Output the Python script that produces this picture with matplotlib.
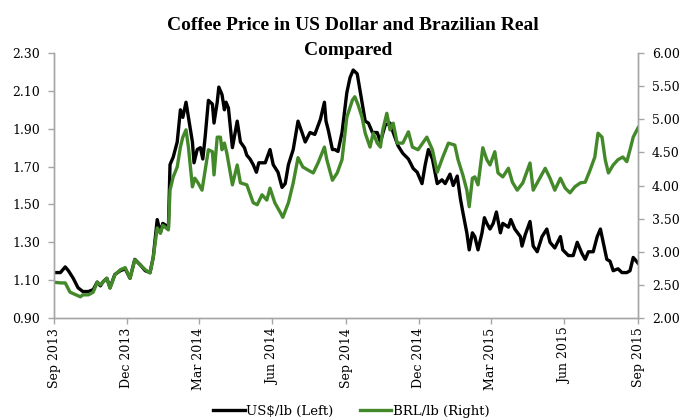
import matplotlib
matplotlib.use("Agg")
import matplotlib.pyplot as plt
import matplotlib.dates as mdates
import pandas as pd

usd_dates = ["2013-09-01","2013-09-09","2013-09-15","2013-09-19","2013-09-25","2013-10-01","2013-10-07","2013-10-14",
"2013-10-20","2013-10-25","2013-10-29","2013-11-01","2013-11-06","2013-11-10","2013-11-16","2013-11-23","2013-11-29",
"2013-12-05","2013-12-11","2013-12-18","2013-12-24","2013-12-30","2014-01-03","2014-01-08","2014-01-12","2014-01-15",
"2014-01-22","2014-01-24","2014-01-28","2014-02-02","2014-02-06","2014-02-09","2014-02-13","2014-02-16","2014-02-21",
"2014-02-23","2014-02-27","2014-03-03","2014-03-06","2014-03-09","2014-03-13","2014-03-18","2014-03-20","2014-03-24",
"2014-03-26","2014-03-30","2014-04-02","2014-04-04","2014-04-07","2014-04-12","2014-04-18","2014-04-22","2014-04-27",
"2014-04-30","2014-05-04","2014-05-08","2014-05-12","2014-05-15","2014-05-23","2014-05-29","2014-06-02","2014-06-08",
"2014-06-13","2014-06-17","2014-06-21","2014-06-27","2014-07-03","2014-07-08","2014-07-12","2014-07-18","2014-07-24",
"2014-07-31","2014-08-05","2014-08-07","2014-08-10","2014-08-15","2014-08-18","2014-08-22","2014-08-27","2014-09-02",
"2014-09-06","2014-09-10","2014-09-15","2014-09-21","2014-09-25","2014-09-29","2014-10-04","2014-10-10","2014-10-14",
"2014-10-20","2014-10-26","2014-10-30","2014-11-05","2014-11-11","2014-11-18","2014-11-24","2014-11-29","2014-12-05",
"2014-12-09","2014-12-13","2014-12-18","2014-12-24","2014-12-30","2015-01-03","2015-01-09","2015-01-13","2015-01-18",
"2015-01-22","2015-01-25","2015-01-30","2015-02-02","2015-02-06","2015-02-09","2015-02-13","2015-02-18","2015-02-21",
"2015-02-24","2015-02-28","2015-03-04","2015-03-08","2015-03-13","2015-03-16","2015-03-23","2015-03-26","2015-03-31",
"2015-04-07","2015-04-09","2015-04-13","2015-04-19","2015-04-23","2015-04-28","2015-05-04","2015-05-10","2015-05-14",
"2015-05-20","2015-05-27","2015-05-30","2015-06-06","2015-06-12","2015-06-17","2015-06-23","2015-06-27","2015-07-01",
"2015-07-07","2015-07-12","2015-07-16","2015-07-19","2015-07-24","2015-07-28","2015-08-01","2015-08-07","2015-08-12",
"2015-08-18","2015-08-22","2015-08-26","2015-09-01"]

usd_per_lb = [1.14,1.14,1.17,1.15,1.11,1.06,1.04,1.04,1.05,1.09,1.07,1.09,1.11,1.06,1.13,1.15,1.16,1.11,1.21,1.18,
1.15,1.14,1.22,1.42,1.35,1.40,1.38,1.71,1.75,1.83,2.00,1.96,2.04,1.96,1.83,1.72,1.79,1.80,1.74,1.86,2.05,2.03,1.93,
2.04,2.12,2.08,2.00,2.04,2.01,1.80,1.94,1.83,1.80,1.76,1.74,1.71,1.67,1.72,1.72,1.79,1.71,1.67,1.59,1.61,1.71,1.79,
1.94,1.88,1.83,1.88,1.87,1.95,2.04,1.94,1.89,1.79,1.79,1.78,1.88,2.09,2.17,2.21,2.19,2.04,1.94,1.93,1.88,1.88,1.83,
1.92,1.93,1.88,1.81,1.77,1.74,1.69,1.67,1.61,1.71,1.79,1.74,1.61,1.63,1.61,1.66,1.60,1.65,1.53,1.46,1.35,1.26,1.35,
1.33,1.26,1.35,1.43,1.40,1.37,1.40,1.46,1.35,1.40,1.38,1.42,1.37,1.33,1.28,1.34,1.41,1.28,1.25,1.33,1.37,1.30,1.27,
1.33,1.26,1.23,1.23,1.30,1.24,1.21,1.25,1.25,1.33,1.37,1.31,1.21,1.20,1.15,1.16,1.14,1.14,1.15,1.22,1.19]

brl_dates = ["2013-09-01","2013-09-09","2013-09-15","2013-09-21","2013-10-04","2013-10-07","2013-10-14","2013-10-20",
"2013-10-25","2013-10-29","2013-11-01","2013-11-06","2013-11-10","2013-11-16","2013-11-23","2013-11-29","2013-12-05",
"2013-12-11","2013-12-18","2013-12-24","2013-12-30","2014-01-03","2014-01-08","2014-01-12","2014-01-15","2014-01-22",
"2014-01-24","2014-01-28","2014-02-02","2014-02-06","2014-02-09","2014-02-13","2014-02-16","2014-02-21","2014-02-24",
"2014-02-28","2014-03-05","2014-03-09","2014-03-13","2014-03-18","2014-03-20","2014-03-24","2014-03-28","2014-03-30",
"2014-04-02","2014-04-05","2014-04-12","2014-04-18","2014-04-22","2014-04-30","2014-05-08","2014-05-13","2014-05-19",
"2014-05-25","2014-05-29","2014-06-04","2014-06-11","2014-06-14","2014-06-21","2014-06-27","2014-07-03","2014-07-09",
"2014-07-16","2014-07-22","2014-07-28","2014-08-05","2014-08-08","2014-08-15","2014-08-21","2014-08-27","2014-09-02",
"2014-09-09","2014-09-12","2014-09-16","2014-09-21","2014-09-25","2014-10-01","2014-10-05","2014-10-10","2014-10-14",
"2014-10-17","2014-10-22","2014-10-26","2014-10-30","2014-11-04","2014-11-11","2014-11-18","2014-11-23","2014-11-30",
"2014-12-11","2014-12-18","2014-12-24","2014-12-31","2015-01-07","2015-01-15","2015-01-19","2015-01-25","2015-01-30",
"2015-02-02","2015-02-06","2015-02-09","2015-02-13","2015-02-19","2015-02-24","2015-02-28","2015-03-06","2015-03-10",
"2015-03-16","2015-03-23","2015-03-28","2015-04-03","2015-04-10","2015-04-19","2015-04-23","2015-05-02","2015-05-08",
"2015-05-14","2015-05-20","2015-05-27","2015-06-02","2015-06-08","2015-06-14","2015-06-21","2015-06-27","2015-07-03",
"2015-07-09","2015-07-13","2015-07-18","2015-07-22","2015-07-26","2015-08-01","2015-08-07","2015-08-13","2015-08-18",
"2015-08-22","2015-08-26","2015-09-01"]

brl_per_lb = [2.54,2.53,2.53,2.39,2.32,2.35,2.35,2.39,2.54,2.50,2.54,2.60,2.45,2.65,2.73,2.76,2.60,2.88,2.80,2.73,
2.68,2.91,3.36,3.28,3.40,3.33,3.93,4.13,4.28,4.58,4.73,4.84,4.58,3.98,4.11,4.04,3.93,4.23,4.54,4.51,4.16,4.73,4.73,
4.54,4.64,4.49,4.01,4.31,4.04,4.01,3.74,3.71,3.86,3.78,3.96,3.74,3.59,3.52,3.74,4.04,4.42,4.28,4.23,4.19,4.34,4.58,
4.39,4.08,4.19,4.39,5.03,5.29,5.34,5.22,5.03,4.79,4.58,4.79,4.64,4.58,4.84,5.09,4.84,4.94,4.64,4.64,4.81,4.58,4.54,
4.73,4.54,4.20,4.43,4.64,4.61,4.39,4.16,3.93,3.68,4.11,4.13,4.01,4.57,4.39,4.31,4.51,4.19,4.13,4.26,4.05,3.93,4.04,
4.34,3.93,4.13,4.26,4.11,3.93,4.11,3.96,3.89,3.98,4.04,4.05,4.23,4.43,4.79,4.73,4.39,4.19,4.31,4.39,4.43,4.36,4.54,
4.73,4.87]

left_ticks = [0.90, 1.10, 1.30, 1.50, 1.70, 1.90, 2.10, 2.30]
right_ticks = [2.00, 2.50, 3.00, 3.50, 4.00, 4.50, 5.00, 5.50, 6.00]
title_line1 = "Coffee Price in US Dollar and Brazilian Real"
title_line2 = "Compared"
usd_label = "US$/lb (Left)"
brl_label = "BRL/lb (Right)"

SERIF = ["DejaVu Serif"]
TITLE_FONT = ["Liberation Serif", "DejaVu Serif"]
GRAY = "#a6a6a6"
BLACK = "#000000"
GREEN = "#43892a"

fig = plt.figure(figsize=(6.82, 4.19), dpi=100)
ax = fig.add_axes([0.0792, 0.241, 0.8563, 0.6325])
ax2 = ax.twinx()

ud = pd.to_datetime(usd_dates)
bd = pd.to_datetime(brl_dates)
l1, = ax.plot(ud, usd_per_lb, color=BLACK, lw=2.4, solid_joinstyle="round", label=usd_label)
l2, = ax2.plot(bd, brl_per_lb, color=GREEN, lw=2.4, solid_joinstyle="round", label=brl_label)

ax.set_ylim(0.90, 2.30)
ax2.set_ylim(2.00, 6.00)
ax.set_yticks(left_ticks)
ax2.set_yticks(right_ticks)
ax.set_yticklabels([f"{v:.2f}" for v in left_ticks])
ax2.set_yticklabels([f"{v:.2f}" for v in right_ticks])
ax.set_xlim(pd.Timestamp("2013-09-01"), pd.Timestamp("2015-09-01"))
ax.xaxis.set_major_locator(mdates.MonthLocator(bymonth=[3, 6, 9, 12]))
ax.xaxis.set_major_formatter(mdates.DateFormatter("%b %Y"))

for a in (ax, ax2):
    for s in a.spines.values():
        s.set_color(GRAY)
        s.set_linewidth(1.0)
    a.spines["top"].set_visible(False)
    a.tick_params(colors=GRAY, length=4, width=1.0, direction="out", labelcolor="#000000", labelsize=9)
    for t in a.get_yticklabels() + a.get_xticklabels():
        t.set_family(SERIF)
ax.tick_params(axis="x", rotation=90, pad=3)
ax.tick_params(axis="y", pad=6)
ax2.tick_params(axis="y", pad=6)

fig.text(0.518, 1 - 30 / 419, title_line1, ha="center", va="baseline", fontsize=14, fontweight="bold",
         family=TITLE_FONT)
fig.text(0.51, 1 - 55 / 419, title_line2, ha="center", va="baseline", fontsize=14, fontweight="bold",
         family=TITLE_FONT)

fig.legend(handles=[l1, l2], loc="lower center", bbox_to_anchor=(0.515, -0.025), ncol=2, frameon=False,
           prop={"family": SERIF, "size": 9.5}, handlelength=2.4, handletextpad=0.1, columnspacing=2.0)

fig.savefig("out.png", dpi=100)
